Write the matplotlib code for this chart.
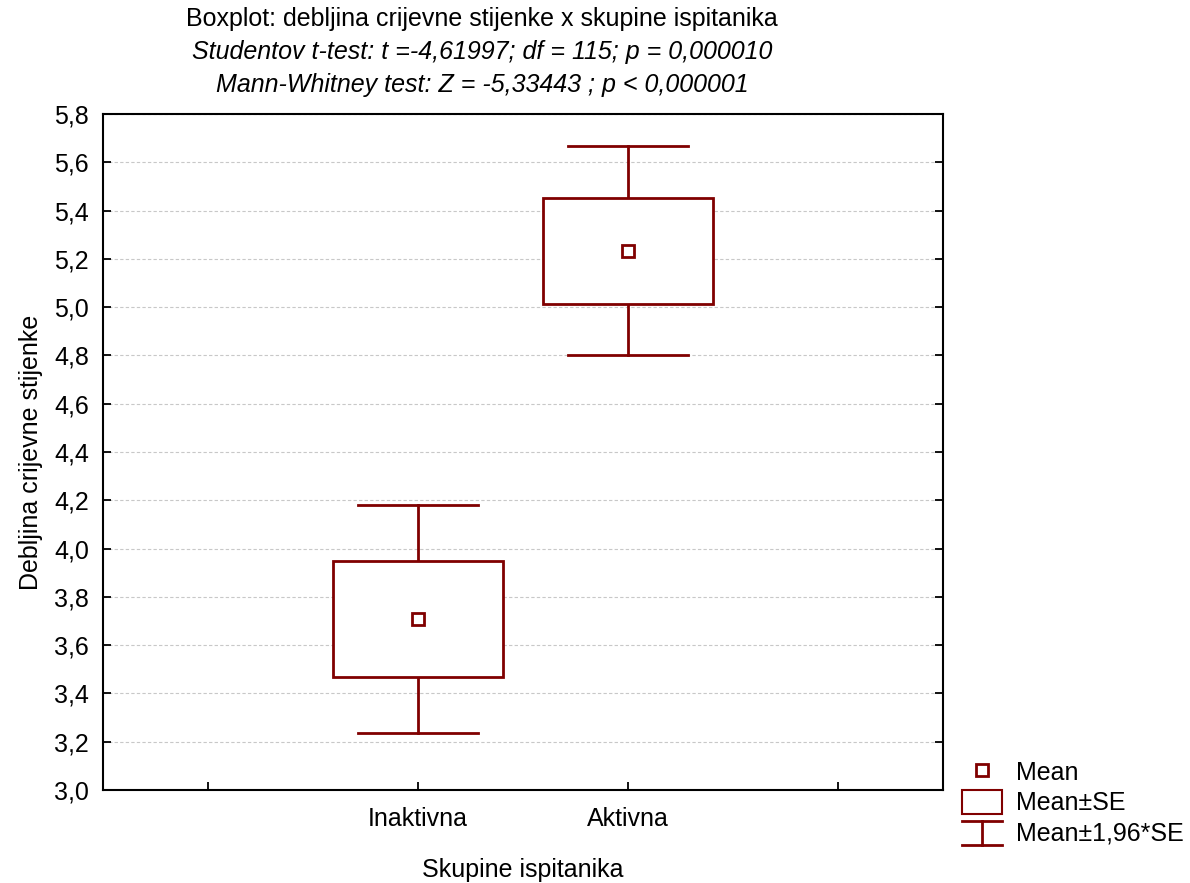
import matplotlib.pyplot as plt
from matplotlib.patches import Rectangle
from matplotlib.lines import Line2D
from matplotlib.legend_handler import HandlerBase

plt.rcParams['font.family'] = ['Liberation Sans', 'DejaVu Sans']

# group means and standard errors
groups = ['Inaktivna', 'Aktivna']
means = [3.708, 5.233]
se = [0.241, 0.221]

red = '#800000'
box_w = 0.81
cap_w = 0.57
positions = [1.5, 2.5]
fs = 18

fig = plt.figure(figsize=(11.9, 8.83), dpi=100)
ax = fig.add_axes([103 / 1190, 1 - 790 / 883, 840 / 1190, 676 / 883])

for x, m, s in zip(positions, means, se):
    lo, hi = m - 1.96 * s, m + 1.96 * s
    # whiskers: mean +/- 1.96*SE
    ax.plot([x, x], [lo, m - s], color=red, lw=2, zorder=3)
    ax.plot([x, x], [m + s, hi], color=red, lw=2, zorder=3)
    ax.plot([x - cap_w / 2, x + cap_w / 2], [lo, lo], color=red, lw=2, zorder=3)
    ax.plot([x - cap_w / 2, x + cap_w / 2], [hi, hi], color=red, lw=2, zorder=3)
    # box: mean +/- SE
    ax.add_patch(Rectangle((x - box_w / 2, m - s), box_w, 2 * s, facecolor='white',
                           edgecolor=red, lw=2, zorder=3))
    # mean marker
    ax.plot(x, m, marker='s', ms=9, mfc='white', mec=red, mew=2, ls='none', zorder=4)

ax.set_xlim(0, 4)
ax.set_ylim(3.0, 5.8)
ax.set_xticks([0.5, 1.5, 2.5, 3.5])
ax.set_xticklabels(['', groups[0], groups[1], ''])
yt = [3.0 + 0.2 * i for i in range(15)]
ax.set_yticks(yt)
ax.set_yticklabels([f'{v:.1f}'.replace('.', ',') for v in yt])
ax.tick_params(direction='in', length=6, width=1.3, labelsize=fs, pad=10,
               right=True, top=False)
ax.tick_params(axis='x', pad=12)
ax.grid(axis='y', color='#c8c8c8', lw=0.8, ls=(0, (3, 2)), zorder=0)
for sp in ax.spines.values():
    sp.set_linewidth(1.5)

ax.set_ylabel('Debljina crijevne stijenke', fontsize=fs, labelpad=8)
ax.set_xlabel('Skupine ispitanika', fontsize=fs, labelpad=20)

fig.text(482 / 1190, 1 - 19 / 883, 'Boxplot: debljina crijevne stijenke x skupine ispitanika',
         ha='center', va='center', fontsize=fs)
fig.text(482 / 1190, 1 - 52 / 883, 'Studentov t-test: t =-4,61997; df = 115; p = 0,000010',
         ha='center', va='center', fontsize=fs, style='italic')
fig.text(482 / 1190, 1 - 85 / 883, 'Mann-Whitney test: Z = -5,33443 ; p < 0,000001',
         ha='center', va='center', fontsize=fs, style='italic')


class WhiskerHandler(HandlerBase):
    def create_artists(self, legend, orig, xd, yd, w, h, fontsize, trans):
        c = orig.get_color()
        x0, y0 = -xd, -yd
        top = Line2D([x0, x0 + w], [y0 + h, y0 + h], color=c, lw=2, transform=trans)
        bot = Line2D([x0, x0 + w], [y0, y0], color=c, lw=2, transform=trans)
        mid = Line2D([x0 + w / 2, x0 + w / 2], [y0, y0 + h], color=c, lw=2, transform=trans)
        return [top, bot, mid]


h_mean = Line2D([], [], marker='s', ms=9, mfc='white', mec=red, mew=2, ls='none')
h_box = Rectangle((0, 0), 1, 1, facecolor='white', edgecolor=red, lw=1.5)
h_wh = Line2D([], [], color=red)
fig.legend([h_mean, h_box, h_wh], ['Mean', 'Mean±SE', 'Mean±1,96*SE'],
           handler_map={h_wh: WhiskerHandler()},
           loc='lower left', bbox_to_anchor=(957 / 1190, 1 - 851 / 883),
           frameon=False, fontsize=fs, handlelength=1.6, handleheight=1.1,
           handletextpad=0.55, labelspacing=0.2, borderpad=0.2, borderaxespad=0)

plt.savefig('out.png', dpi=100)
